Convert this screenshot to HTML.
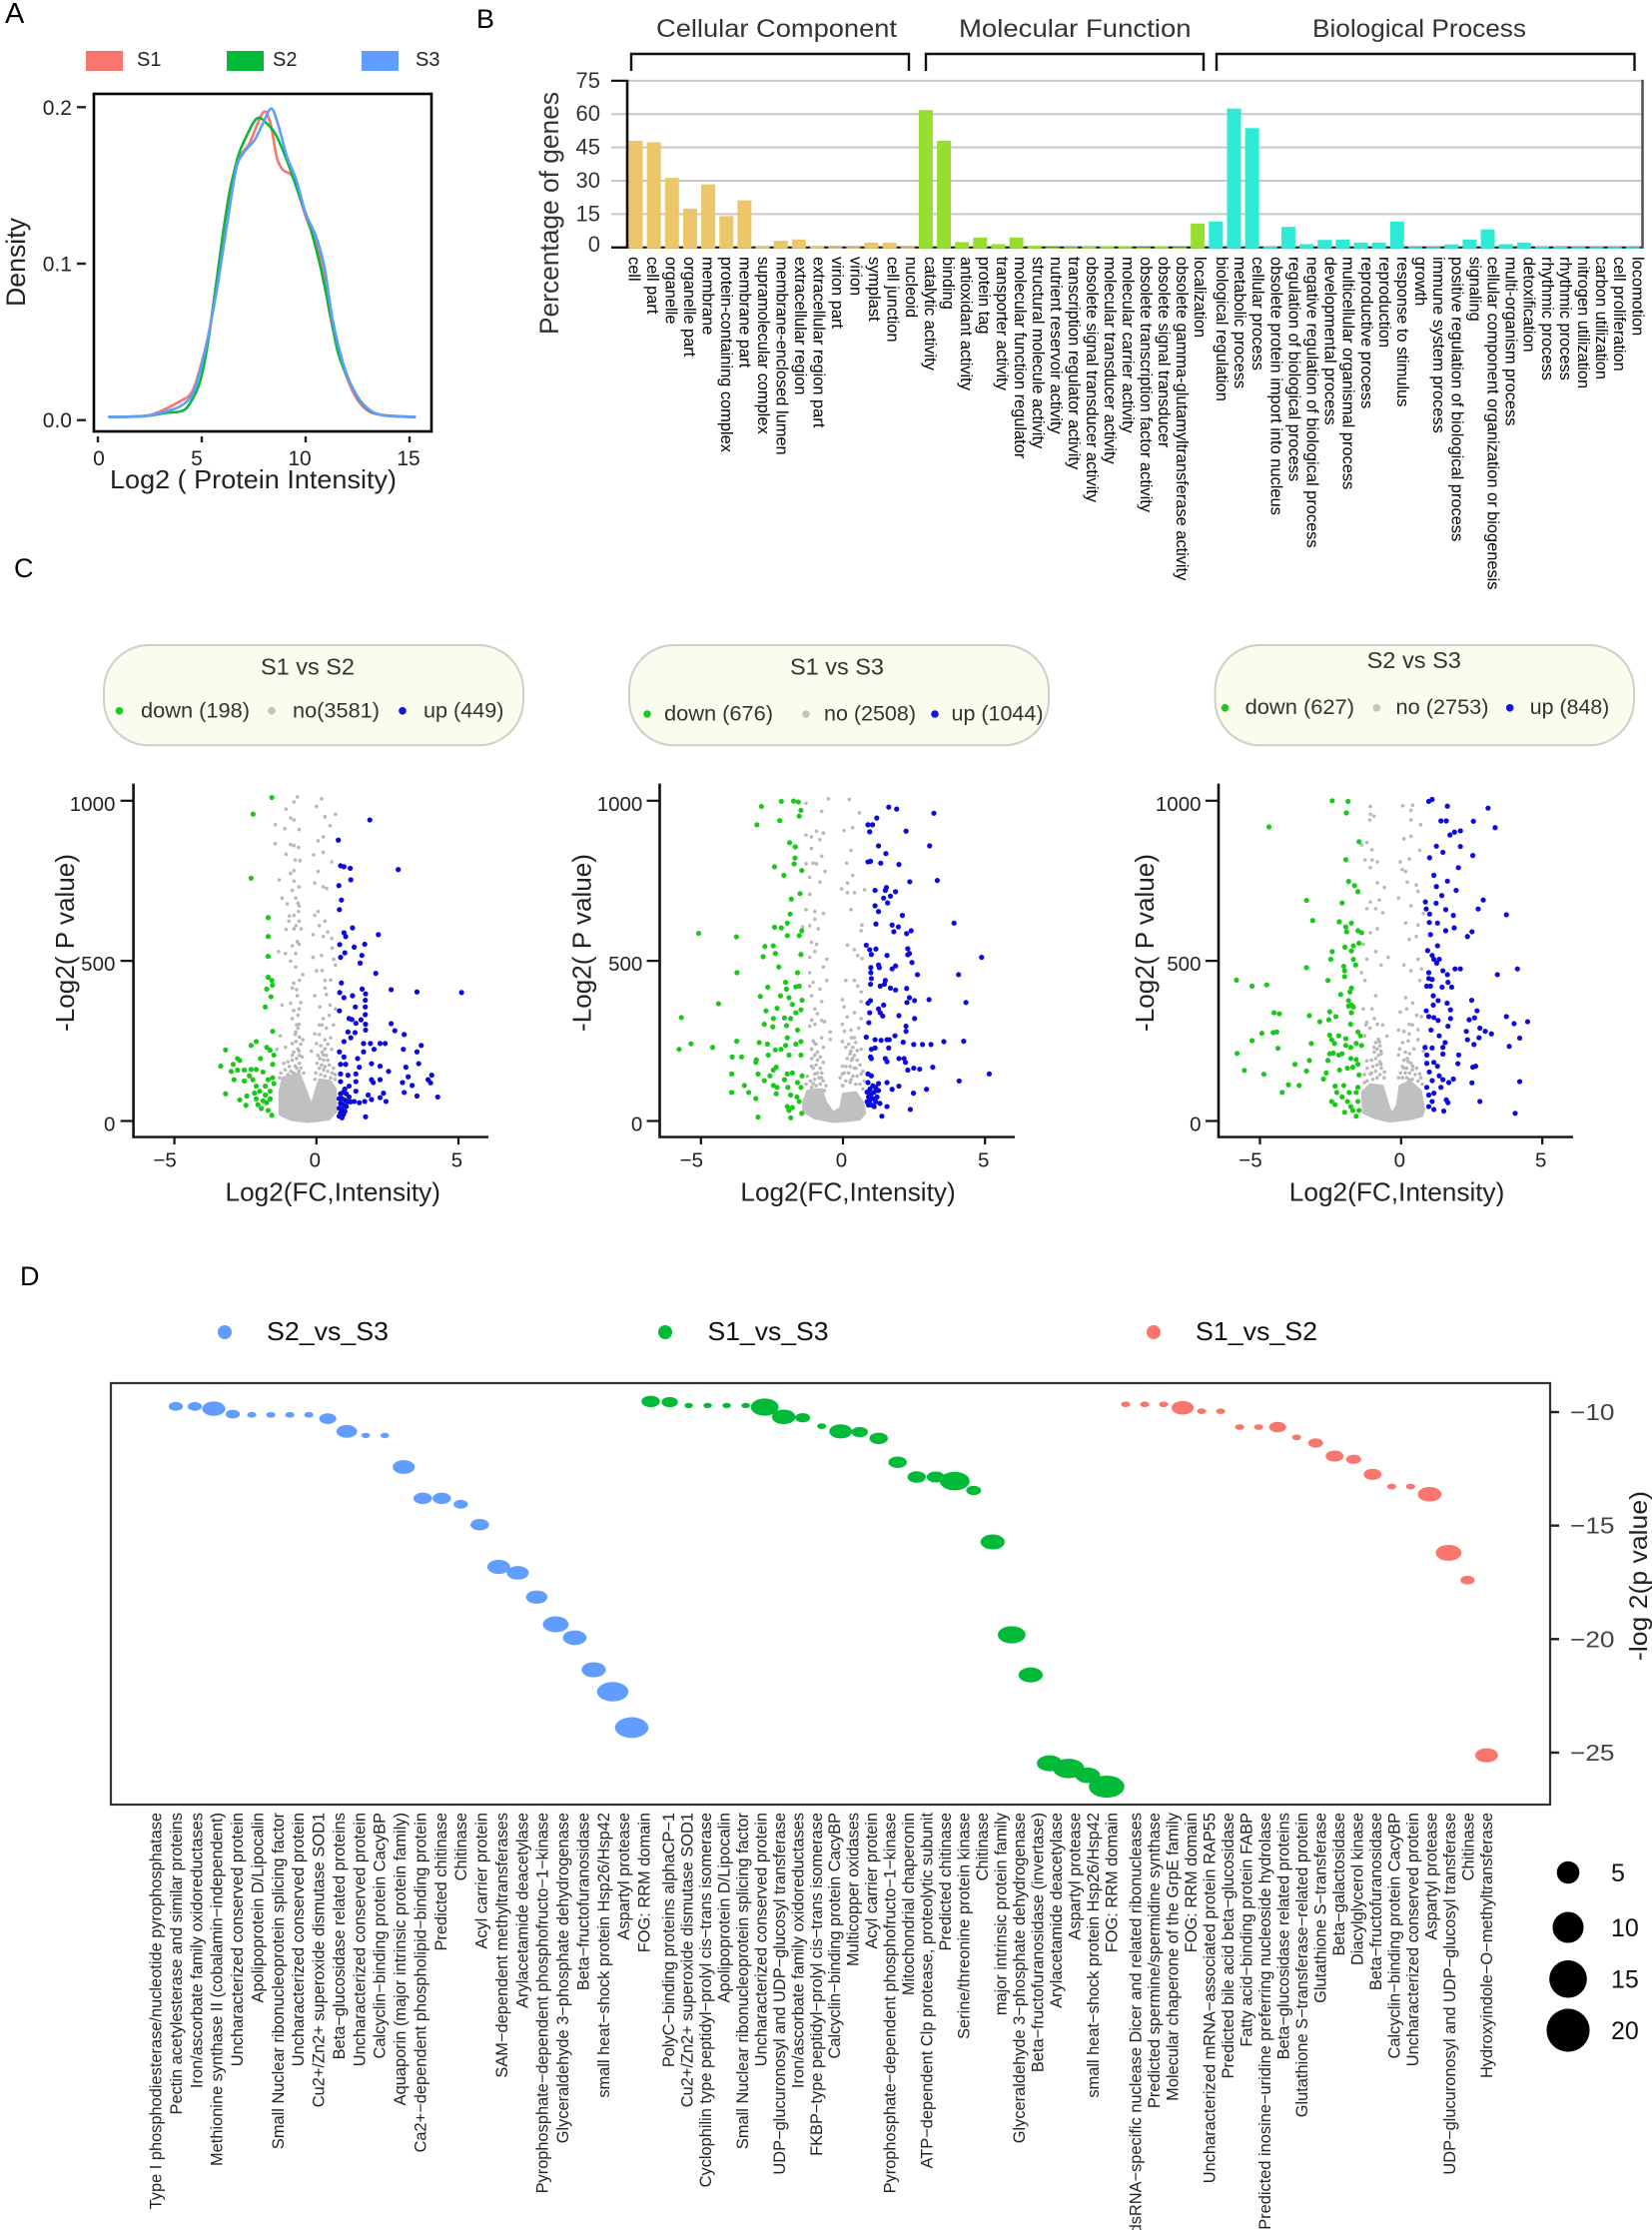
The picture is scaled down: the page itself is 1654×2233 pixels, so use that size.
<!DOCTYPE html>
<html lang="en">
<head>
<meta charset="utf-8">
<title>Proteomics overview figure</title>
<style>
html,body{margin:0;padding:0;background:#fff;}
svg{display:block;font-family:"Liberation Sans",sans-serif;}
</style>
</head>
<body>
<svg id="fig" xmlns="http://www.w3.org/2000/svg" width="1654" height="2233" viewBox="0 0 1654 2233">
  <rect x="0" y="0" width="1654" height="2233" fill="#ffffff"/>
  <text x="5" y="23" font-size="29" fill="#000">A</text>
  <text x="477" y="28" font-size="27" fill="#000">B</text>
  <text x="14" y="578" font-size="27" fill="#000">C</text>
  <text x="20" y="1287" font-size="27" fill="#000">D</text>

  <g id="panelA">
    <rect x="86" y="51" width="37" height="20" fill="#F8766D"/>
    <text x="137" y="66" font-size="20" fill="#222">S1</text>
    <rect x="227" y="51" width="37" height="20" fill="#00BA38"/>
    <text x="273" y="66" font-size="20" fill="#222">S2</text>
    <rect x="362" y="51" width="37" height="20" fill="#619CFF"/>
    <text x="416" y="66" font-size="20" fill="#222">S3</text>
    <rect x="94" y="94" width="338" height="338" fill="#fff" stroke="#000" stroke-width="2.6"/>
    <text transform="translate(25,307) rotate(-90)" font-size="27" fill="#222" textLength="89" lengthAdjust="spacingAndGlyphs">Density</text>
    <text x="110" y="489" font-size="26" fill="#222" textLength="287" lengthAdjust="spacingAndGlyphs">Log2 ( Protein Intensity)</text>
  </g>

  <g id="panelB">
    <text x="657" y="37" font-size="25" fill="#333" textLength="241" lengthAdjust="spacingAndGlyphs">Cellular Component</text>
    <text x="960" y="37" font-size="25" fill="#333" textLength="232.6" lengthAdjust="spacingAndGlyphs">Molecular Function</text>
    <text x="1314" y="37" font-size="25" fill="#333" textLength="214" lengthAdjust="spacingAndGlyphs">Biological Process</text>
    <path d="M632 71V54H910V71" fill="none" stroke="#111" stroke-width="2.4"/>
    <path d="M927 71V54H1205V71" fill="none" stroke="#111" stroke-width="2.4"/>
    <path d="M1218 71V54H1636.5V71" fill="none" stroke="#111" stroke-width="2.4"/>
    <text transform="translate(559,335) rotate(-90)" font-size="27" fill="#333" textLength="243" lengthAdjust="spacingAndGlyphs">Percentage of genes</text>
  </g>

  <g id="panelC"></g>

  <g id="panelD">
    <circle cx="225" cy="1334" r="7" fill="#619CFF"/>
    <text x="267" y="1342" font-size="26" fill="#111" textLength="122" lengthAdjust="spacingAndGlyphs">S2_vs_S3</text>
    <circle cx="666" cy="1334" r="7" fill="#00BA38"/>
    <text x="708.5" y="1342" font-size="26" fill="#111" textLength="121" lengthAdjust="spacingAndGlyphs">S1_vs_S3</text>
    <circle cx="1155" cy="1334" r="7" fill="#F8766D"/>
    <text x="1197" y="1342" font-size="26" fill="#111" textLength="122" lengthAdjust="spacingAndGlyphs">S1_vs_S2</text>
    <rect x="111" y="1385" width="1441" height="422" fill="#fff" stroke="#333" stroke-width="2.2"/>
    <text transform="translate(1649,1663) rotate(-90)" font-size="25" fill="#222" textLength="170" lengthAdjust="spacingAndGlyphs">-log 2(p value)</text>
  </g>
</svg>

<script>
/* ---------- Panel A data ---------- */
const densityYTicks = [0, 0.1, 0.2];
const densityXTicks = [0, 5, 10, 15];
const densityS1X = [0.5,2.2,3.0,3.95,4.5,4.9,5.4,5.85,6.35,6.85,7.3,7.95,8.3,8.6,8.9,9.4,10.0,10.7,11.15,11.65,12.3,12.95,13.75,15.3];
const densityS1Y = [.002,.0026,.0057,.012,.0175,.0323,.06,.1026,.1472,.1685,.177,.1966,.19,.1685,.16,.1547,.1302,.1047,.0685,.0409,.0174,.0064,.0032,.002];
const densityS2X = [0.5,2.2,3.3,4.0,4.4,4.9,5.3,5.7,6.2,6.7,7.15,7.65,8.1,8.6,9.2,9.7,10.2,10.7,11.2,11.6,12.3,12.9,13.7,15.3];
const densityS2Y = [.002,.0025,.0047,.0057,.01,.0238,.0494,.0877,.1345,.1664,.1813,.1928,.19,.1815,.1623,.1432,.1241,.0987,.0668,.0413,.0196,.0079,.0032,.002];
const densityS3X = [0.5,2.2,3.3,4.1,4.65,5.2,5.7,6.2,6.65,7.0,7.55,7.95,8.35,8.7,9.1,9.55,10.0,10.5,10.9,11.3,11.8,12.3,12.95,13.75,15.3];
const densityS3Y = [.002,.0026,.0057,.01,.0196,.047,.0813,.1238,.16,.1706,.1791,.1898,.1991,.1877,.1685,.1536,.1323,.1174,.0983,.0643,.0366,.0196,.0079,.003,.002];

/* ---------- Panel B data ---------- */
const goYTicks = [0, 15, 30, 45, 60, 75];
const goCellularLabels = ["cell","cell part","organelle","organelle part","membrane","protein-containing complex","membrane part","supramolecular complex","membrane-enclosed lumen","extracellular region","extracellular region part","virion part","virion","symplast","cell junction","nucleoid"];
const goCellularValues = [48,47.3,31.3,17.5,28.4,14.1,21.2,0.4,3,3.6,0.4,0.3,0.3,2.2,2.2,0.3];
const goMolecularLabels = ["catalytic activity","binding","antioxidant activity","protein tag","transporter activity","molecular function regulator","structural molecule activity","nutrient reservoir activity","transcription regulator activity","obsolete signal transducer activity","molecular transducer activity","molecular carrier activity","obsolete transcription factor activity","obsolete signal transducer","obsolete gamma-glutamyltransferase activity","localization"];
const goMolecularValues = [61.8,48,2.4,4.5,1.5,4.5,0.8,0.2,0.3,0.4,0.5,0.5,0.2,0.5,0.2,10.8];
const goBiologicalLabels = ["biological regulation","metabolic process","cellular process","obsolete protein import into nucleus","regulation of biological process","negative regulation of biological process","developmental process","multicellular organismal process","reproductive process","reproduction","response to stimulus","growth","immune system process","positive regulation of biological process","signaling","cellular component organization or biogenesis","multi-organism process","detoxification","rhythmic process","rhythmic process","nitrogen utilization","carbon utilization","cell proliferation","locomotion"];
const goBiologicalValues = [11.7,62.5,53.7,0.4,9.3,1.5,3.4,3.6,2.2,2.2,11.7,0.3,0.3,1.4,3.6,8.1,1.5,2.2,0.4,0.4,0.3,0.3,0.3,0.3];

/* ---------- Panel C data ---------- */
const volcanoXTicks = [-5, 0, 5];
const volcanoYTicks = [0, 500, 1000];

const s1s2Down = [[-1.57,1010],[-2.23,958],[-2.3,758],[-1.7,635],[-1.7,576],[-1.7,514],[-1.7,449],[-1.57,439],[-1.55,424],[-1.75,412],[-1.6,388],[-1.8,356],[-1.54,280],[-3.2,222],[-3.37,171],[-2.78,195],[-2.7,189],[-2.93,177],[-3.0,155],[-2.78,159],[-2.54,159],[-2.9,129],[-2.54,125],[-2.36,141],[-2.12,161],[-2.3,161],[-2.24,129],[-1.88,153],[-1.97,195],[-2.3,236],[-2.12,248],[-1.75,230],[-1.63,221],[-1.5,206],[-1.54,177],[-1.54,135],[-1.7,129],[-1.8,109],[-2.12,109],[-2.18,87],[-2,93],[-1.8,81],[-1.63,93],[-3.2,85],[-2.7,66],[-2.45,78],[-2.48,49],[-2.06,51],[-1.94,39],[-1.75,57],[-1.63,69],[-1.7,33],[-1.57,18],[-1.5,117],[-2.12,69],[-1.88,63]];
const s1s2Up = [[1.88,940],[.77,877],[2.88,785],[.85,797],[.97,794],[1.19,789],[1.21,753],[.79,735],[.88,690],[.81,660],[1.27,603],[.97,588],[1.03,576],[2.18,582],[.82,551],[1.33,543],[1.7,552],[1.0,525],[.85,511],[1.6,517],[1.54,493],[2.09,461],[.88,431],[.82,401],[1.61,412],[1.73,397],[2.63,410],[3.54,403],[5.11,401],[.97,385],[1.27,391],[1.72,377],[1.37,356],[1.72,356],[.81,344],[1.72,332],[1.15,320],[1.25,317],[1.57,316],[1.39,305],[1.73,302],[1.73,284],[2.63,304],[2.76,282],[3.09,270],[1.11,278],[1.36,276],[1.21,260],[.97,248],[1.66,242],[1.9,242],[2.24,242],[2.42,242],[3.69,236],[3.06,224],[3.54,216],[.81,216],[1.66,216],[2.03,224],[1.45,195],[.97,200],[3.6,179],[1.94,179],[2.24,171],[3.15,168],[1.03,177],[.85,177],[1.51,168],[1.39,147],[2.54,155],[3.23,138],[4.06,143],[3.93,129],[4.02,119],[1.11,143],[.85,147],[1.94,129],[2,120],[2.24,129],[3.03,120],[3.37,111],[3.09,89],[3.54,78],[4.27,75],[1.39,123],[1.15,109],[1.39,93],[.85,123],[1.82,81],[2.24,73],[2.36,87],[2.45,61],[1.94,67],[1.7,61],[1.51,57],[1.33,61],[1.73,13],[.85,85],[.95,90],[1.05,85],[.9,70],[1,65],[1.1,60],[.85,55],[.95,50],[1.05,45],[.8,40],[.9,35],[1,30],[.85,25],[.95,20],[.8,15],[.9,10],[1.15,75],[.8,70],[1,100],[1.2,60]];
const s1s2No = [[-.67,1012],[-.79,996],[-1.07,974],[-.91,946],[-.79,940],[-1.45,925],[-.61,910],[-1.11,913],[-1.45,866],[-.91,863],[-.79,860],[-.63,854],[-1.07,833],[-.75,815],[-.58,813],[-.79,782],[-.91,773],[-1.31,753],[-.79,749],[-.61,731],[-1.21,696],[-.73,696],[-.61,672],[-1.03,678],[-.63,654],[-.79,642],[-.97,624],[-.61,624],[-1.07,598],[-.79,600],[-.54,600],[-.61,552],[-.85,547],[-1.09,523],[-.73,523],[-.91,499],[-.73,481],[-1.33,529],[-.48,457],[-.85,415],[-.67,391],[-.91,368],[-.61,350],[-1.21,362],[-.85,320],[-.61,302],[-1.27,266],[-.73,278],[-.48,254],[-1.09,230],[-.85,242],[-.61,218],[-1.39,224],[.18,1006],[0,982],[.67,958],[.3,950],[.48,922],[.24,887],[.06,875],[-.1,831],[.24,839],[.54,809],[.06,779],[.24,731],[-.06,743],[.36,726],[.06,654],[-.06,642],[.3,624],[-.12,582],[.24,576],[.54,570],[-.12,511],[.18,517],[.61,505],[.67,487],[0,469],[.3,439],[-.06,391],[.3,415],[.48,362],[.12,356],[.67,350],[.24,320],[-.06,272],[.3,254],[0,242],[.54,224],[-.18,218],[.24,206]];
const s1s2NoLower = [[-.7,300],[-.65,290],[-.75,270],[-.6,262],[-.72,248],[-.55,240],[-.65,225],[-.8,215],[-.6,205],[-.5,200],[-.7,195],[-.85,190],[-.6,180],[-.75,172],[-.95,170],[-.55,165],[-.9,155],[-1.1,160],[-1.25,150],[-.45,150],[-1,185],[-1.15,180],[-.85,205],[-.7,165],[-.62,155],[-.8,150],[-1,145],[-1.3,135],[.15,235],[.3,225],[.2,215],[.05,205],[.35,205],[.12,195],[.25,190],[.4,190],[.02,180],[.18,175],[.3,170],[.45,175],[.6,165],[.1,165],[.25,160],[.4,155],[.55,150],[.65,145],[-.02,150],[.15,145],[.3,140],[.5,135],[.65,130],[-.05,130],[.35,290],[.5,260],[.2,300],[.4,240],[.1,270],[-.65,330],[-.8,345],[-.55,370],[-.7,410],[-.8,430],[-.6,440],[-.68,560],[-.95,640],[-.65,680],[-.72,610],[-.85,720],[.45,330],[.6,300],[.1,300],[.35,395],[.5,440],[.2,470],[.55,540],[.4,590],[.1,610]];
const s1s2Cloud = [[-.3,-3],[-.9,3],[-1.3,20],[-1.3,90],[-1.2,135],[-.6,150],[-.3,80],[-.17,50],[-.05,90],[.1,130],[.5,125],[.68,100],[.7,30],[.45,5],[0,-1]];

const s1s3Down = [[-2.17,998],[-1.74,999],[-1.57,996],[-2.87,982],[-1.48,970],[-1.54,952],[-2.23,938],[-3.03,925],[-1.88,869],[-1.68,856],[-1.69,821],[-1.72,803],[-2.41,794],[-2.08,767],[-1.45,782],[-1.51,710],[-1.82,693],[-1.86,646],[-2.41,605],[-2.17,603],[-1.96,618],[-5.08,586],[-3.75,575],[-1.96,579],[-1.45,594],[-1.54,579],[-2.75,545],[-2.45,547],[-2.38,523],[-2.81,513],[-1.48,520],[-2.26,481],[-3.73,463],[-1.6,463],[-2.02,433],[-2.65,418],[-1.99,412],[-1.66,419],[-1.54,421],[-2.91,389],[-2.2,391],[-1.9,385],[-1.44,377],[-4.38,366],[-1.78,364],[-2.32,352],[-2.71,344],[-1.66,338],[-1.48,347],[-5.69,323],[-2.45,320],[-2.06,322],[-1.84,320],[-2.77,302],[-2.47,294],[-1.99,298],[-1.6,284],[-1.96,260],[-3.74,249],[-2.95,245],[-2.66,240],[-5.35,241],[-5.77,224],[-4.59,230],[-1.66,240],[-1.48,248],[-2.02,236],[-2.38,222],[-2.18,224],[-1.9,206],[-1.48,206],[-2.63,206],[-3.9,200],[-3.57,200],[-3.05,191],[-3.07,183],[-2.35,168],[-2.45,159],[-3.92,147],[-2.99,147],[-2.57,141],[-2.77,126],[-1.96,147],[-1.78,150],[-2.06,129],[-1.44,141],[-1.6,120],[-2.45,111],[-2.32,105],[-1.94,105],[-1.48,105],[-3.47,111],[-3.32,89],[-3.92,89],[-3.07,70],[-2.35,85],[-1.84,81],[-1.62,75],[-1.54,61],[-1.96,45],[-1.78,42],[-1.9,33],[-2.99,12],[-1.84,10],[-1.45,24]];
const s1s3Up = [[1.61,980],[1.89,974],[3.2,961],[1.19,946],[.88,925],[1.04,925],[.94,903],[2.22,905],[3.05,859],[1.25,859],[1.51,835],[.88,809],[.97,811],[1.33,805],[1.97,801],[3.32,751],[2.35,747],[1.13,720],[1.49,720],[1.53,729],[1.85,716],[1.67,702],[1.43,696],[1.57,681],[1.13,672],[1.25,654],[2.09,642],[3.91,618],[1.16,615],[1.73,612],[1.95,606],[1.79,591],[2.4,594],[2.24,585],[.82,549],[.94,535],[1.16,537],[1,520],[2.28,538],[2.34,523],[2.28,519],[1.55,517],[4.88,511],[2.43,495],[.98,479],[1.25,487],[1.28,479],[1.73,475],[1.85,484],[.98,463],[2.62,457],[4.07,457],[1,445],[1.49,439],[.97,427],[1.31,421],[1.46,427],[1.67,415],[1.85,409],[2.24,414],[2.34,385],[2.52,376],[2.25,370],[3.03,379],[4.33,370],[.97,376],[.88,368],[1.43,362],[1.25,350],[.94,338],[1.31,338],[1.4,328],[1.97,329],[2.52,320],[.91,307],[2.22,296],[2.22,280],[1.83,266],[.82,262],[1.13,254],[1.34,252],[1.55,254],[1.63,254],[2.12,246],[2.49,239],[2.8,239],[3.1,239],[3.55,248],[4.25,249],[1,224],[1.13,228],[1.61,228],[.97,200],[1,195],[1.49,195],[1.55,185],[1.97,195],[2.15,195],[2.2,183],[3.16,168],[2.28,159],[2.49,165],[2.7,162],[5.15,147],[.88,147],[1,141],[4.09,125],[.88,120],[1.25,117],[1.55,120],[1.97,109],[2.94,99],[2.48,87],[1.73,99],[2.37,36],[1.37,15],[1.55,45],[.85,90],[.95,100],[1.05,110],[1.15,105],[1.25,95],[.9,75],[1,85],[1.1,90],[1.2,75],[.85,60],[.95,65],[1.05,70],[1.15,60],[1,50],[1.1,45],[.9,50],[1.3,55]];
const s1s3No = [[-.51,1006],[.22,1004],[-1.3,992],[-.75,967],[.58,962],[-.93,905],[-.69,899],[-1.3,893],[.04,907],[.34,916],[-1.11,887],[-.81,878],[.28,845],[-1.11,851],[-.75,827],[-1.3,803],[-1.05,805],[-.93,803],[-.63,779],[.13,805],[.34,767],[.16,743],[-1.17,761],[-.81,746],[-.05,725],[.76,722],[.16,713],[.4,713],[-1.17,708],[-1.3,660],[-.99,654],[-.69,648],[.28,660],[-.99,630],[.67,612],[.64,594],[-1.42,606],[-1.17,610],[-.87,600],[-1.11,558],[-.93,552],[.16,549],[.4,535],[.52,517],[.67,507],[-.99,529],[-.57,505],[-1.17,511],[-.69,481],[-1.17,463],[-.57,439],[-1.05,433],[.1,439],[.4,439],[.52,421],[-1.17,421],[-.81,412],[.64,403],[-1.11,391],[-.02,379],[-.75,373],[.64,373],[.04,356],[-.99,350],[.4,338],[.64,320],[-.99,302],[-.75,314],[-.02,302],[-1.17,296],[.28,284],[-.45,278],[-.75,260],[-.02,248],[.4,260],[-.99,242],[-.69,230],[-1.11,224],[.28,218],[.64,224],[-.99,206],[-.69,183],[-.02,171],[.34,195],[-1.11,171],[-.99,147],[-.02,147],[.46,165],[.28,129],[-.75,135],[.64,147],[-1.05,117],[-.02,111]];
const s1s3NoLower = [[-1.05,250],[-.95,240],[-1.1,225],[-.9,215],[-1,205],[-1.1,195],[-.9,190],[-.95,175],[-1.05,165],[-.8,165],[-.9,150],[-.75,150],[-.85,135],[-1,130],[-1.15,125],[-1.3,115],[-.7,125],[-.8,115],[-.95,110],[-1.1,105],[-.6,110],[-.65,95],[-1.25,140],[.3,260],[.45,245],[.2,240],[.35,230],[.5,220],[.25,210],[.4,205],[.15,195],[.3,190],[.5,190],[.1,170],[.25,170],[.4,165],[.6,175],[.05,150],[.2,150],[.35,140],[.5,140],[.7,155],[.1,125],[.25,120],[.45,115],[.6,115],[.75,125],[-.1,135],[0,110],[.7,100],[-.65,310],[-.9,335],[-1.1,315],[.15,325],[.05,280],[.55,290],[-.45,255],[-.8,200],[.1,230]];
const s1s3Cloud = [[-.35,-3],[-1,8],[-1.4,30],[-1.4,60],[-1.25,95],[-.75,100],[-.6,60],[-.35,28],[-.1,40],[0,85],[.45,90],[.7,60],[.78,25],[.6,5],[.2,0]];

const s2s3Down = [[-2.44,1000],[-1.88,998],[-1.94,962],[-4.68,918],[-1.49,872],[-1.96,816],[-1.86,748],[-1.65,735],[-1.53,716],[-3.35,689],[-2.09,681],[-3.13,626],[-2.19,622],[-1.76,618],[-1.96,606],[-1.93,591],[-1.53,594],[-1.4,588],[-1.49,555],[-1.69,547],[-1.99,543],[-2.44,529],[-1.76,531],[-2.49,505],[-1.69,505],[-1.61,487],[-2.03,483],[-2,469],[-2,451],[-3.35,479],[-2.59,439],[-5.83,440],[-5.28,421],[-4.76,425],[-1.76,415],[-1.81,403],[-2.14,395],[-1.86,376],[-1.76,362],[-1.86,359],[-1.69,356],[-1.76,338],[-4.5,338],[-4.31,335],[-2.53,341],[-3.25,329],[-2.56,316],[-2.31,326],[-2.88,310],[-1.79,302],[-4.53,276],[-4.4,278],[-4.93,274],[-1.53,278],[-1.44,266],[-2.53,268],[-2.21,266],[-1.96,257],[-2.46,254],[-2.36,242],[-5.28,251],[-3.18,242],[-1.96,236],[-1.78,230],[-1.59,242],[-1.4,236],[-4.36,227],[-5.81,211],[-2.53,210],[-2.4,212],[-2.21,206],[-2.09,210],[-2.59,189],[-1.78,195],[-1.59,192],[-1.53,177],[-3.25,189],[-3.76,177],[-5.55,158],[-3.35,156],[-2.18,159],[-1.9,165],[-1.71,168],[-4.86,146],[-2.65,150],[-2.75,131],[-1.49,144],[-3.99,113],[-3.61,111],[-4.21,89],[-2.34,109],[-2.03,111],[-2.28,89],[-1.84,89],[-1.59,89],[-2.46,61],[-2.34,51],[-2.09,75],[-1.9,61],[-1.53,61],[-2,27],[-1.71,33],[-1.59,15],[-1.78,45],[-1.49,33],[-1.53,105]];
const s2s3Up = [[1.1,1004],[.98,998],[1.64,983],[3.08,977],[1.41,937],[1.6,937],[2.56,936],[3.33,916],[1.73,893],[1.89,902],[2.1,906],[1.25,858],[2.1,857],[1.48,839],[2.54,829],[1.01,822],[2.03,791],[1.16,767],[1.64,749],[1.25,732],[1.95,720],[1.44,704],[2.91,690],[.86,684],[1.24,680],[2.73,662],[.89,662],[1.58,660],[1.01,646],[1.85,642],[3.73,644],[1,620],[1.29,618],[1.88,603],[1.58,594],[2.51,591],[2.35,576],[1.04,582],[1.29,547],[.94,532],[1.1,517],[1.16,505],[1.35,505],[1.26,493],[1.91,475],[2.1,475],[4.12,475],[1.48,469],[.98,463],[3.41,457],[1.64,457],[.98,445],[1.1,442],[1.66,433],[.91,421],[1.04,421],[1.45,418],[1.79,418],[1.14,391],[1.31,376],[1.63,368],[2.5,377],[1.14,362],[1.75,347],[2.69,344],[.89,344],[.98,326],[1.16,323],[1.31,314],[1.75,320],[2.41,316],[2.6,322],[3.73,326],[4,304],[4.48,310],[1.66,296],[2.79,290],[2.31,280],[2.98,280],[3.2,272],[1.06,284],[1.35,266],[2.35,254],[2.76,260],[2.58,239],[4.2,259],[3.83,233],[1.56,245],[1.48,230],[.85,230],[1.1,228],[2.04,206],[1.48,209],[.91,206],[2.01,179],[1.16,183],[1.29,171],[.91,180],[2.54,168],[2.64,171],[1,153],[1.35,141],[1.48,129],[1.85,131],[1.69,120],[2.51,119],[4.2,123],[1.1,126],[.91,105],[1.41,105],[1.16,87],[.98,81],[1.6,66],[1.66,57],[2.79,61],[1.1,61],[.98,45],[1.16,36],[1.51,31],[4.04,24]];
const s2s3No = [[-1.09,982],[.06,984],[.41,986],[-1.09,958],[-.96,952],[.35,970],[.35,940],[-1.11,940],[.69,925],[-1.21,870],[-1.4,862],[-1.03,847],[.35,889],[.1,881],[.66,845],[.29,818],[-1.03,815],[-1.28,815],[-.84,809],[-1.09,791],[-.03,809],[.04,785],[.16,779],[.22,746],[-.84,744],[.54,737],[.6,717],[-.59,729],[-.09,696],[-1.09,684],[-.77,690],[.35,672],[-1.21,663],[-.9,663],[-.65,650],[.79,648],[.16,618],[-.84,600],[.6,612],[-1.09,588],[.54,576],[.29,567],[-1.34,552],[-.9,529],[-.46,511],[-1.21,505],[.1,487],[.6,505],[-.71,487],[-1.4,463],[.35,469],[.72,475],[-1.28,439],[.66,439],[-.9,391],[.16,385],[.41,368],[-1.34,350],[-1.03,350],[-.03,340],[.72,326],[.29,302],[-1.21,308],[-.84,302],[-.09,284],[.29,272],[-1.28,266],[-.77,248],[.6,254],[-.96,230],[-.71,218],[-.09,206],[.79,218],[.22,195],[-1.21,188],[-.71,177],[.41,171],[.1,165],[-1.09,147],[-.59,153],[.66,147],[-.09,135],[.29,129]];
const s2s3NoLower = [[-.8,255],[-.9,245],[-.75,235],[-.85,225],[-.95,215],[-.7,210],[-.8,205],[-.9,195],[-1.05,190],[-.75,185],[-.85,175],[-1,170],[-1.2,165],[-.7,165],[-.9,155],[-1.05,150],[-1.3,145],[-.75,145],[-.85,135],[-1,130],[-1.2,125],[-.6,135],[-1.3,120],[.1,190],[.25,185],[.35,180],[.05,170],[.2,165],[.4,160],[.55,165],[-.02,150],[.15,150],[.3,150],[.5,145],[.7,135],[.05,135],[.2,135],[.4,130],[.6,125],[.75,115],[.3,210],[.15,215],[.45,225],[.25,250],[.05,245],[-.05,225],[-.65,300],[-.95,320],[-1.1,290],[-1.25,300],[.4,300],[.1,280],[.6,285],[.55,330],[.2,350],[-.5,265]];
const s2s3Cloud = [[-.4,-2],[-.9,8],[-1.35,25],[-1.38,90],[-1.1,115],[-.65,110],[-.45,50],[-.32,22],[-.15,50],[-.05,110],[.3,125],[.7,95],[.82,35],[.75,15],[.3,5]];

/* ---------- Panel D data ---------- */
const bubbleYTicks = [-10, -15, -20, -25];
const sizeLegendValues = [5, 10, 15, 20];
const s2s3Terms = ["Type I phosphodiesterase/nucleotide pyrophosphatase","Pectin acetylesterase and similar proteins","Iron/ascorbate family oxidoreductases","Methionine synthase II (cobalamin−independent)","Uncharacterized conserved protein","Apolipoprotein D/Lipocalin","Small Nuclear ribonucleoprotein splicing factor","Uncharacterized conserved protein","Cu2+/Zn2+ superoxide dismutase SOD1","Beta−glucosidase related proteins","Uncharacterized conserved protein","Calcyclin−binding protein CacyBP","Aquaporin (major intrinsic protein family)","Ca2+−dependent phospholipid−binding protein","Predicted chitinase","Chitinase","Acyl carrier protein","SAM−dependent methyltransferases","Arylacetamide deacetylase","Pyrophosphate−dependent phosphofructo−1−kinase","Glyceraldehyde 3−phosphate dehydrogenase","Beta−fructofuranosidase","small heat−shock protein Hsp26/Hsp42","Aspartyl protease","FOG: RRM domain"];
const s2s3Values = [-9.75,-9.75,-9.85,-10.09,-10.12,-10.12,-10.12,-10.12,-10.29,-10.85,-11.03,-11.03,-12.42,-13.8,-13.8,-14.06,-14.96,-16.82,-17.08,-18.15,-19.35,-19.94,-21.35,-22.32,-23.9];
const s2s3Sizes = [3.6,3.6,9.6,3.6,1.5,1.5,1.5,1.5,5.2,7.6,1.3,1.3,8.7,6.1,6.1,3.6,6.1,9.3,8.7,8.2,11.8,9.9,10.5,17.6,20];
const s1s3Terms = ["PolyC−binding proteins alphaCP−1","Cu2+/Zn2+ superoxide dismutase SOD1","Cyclophilin type peptidyl−prolyl cis−trans isomerase","Apolipoprotein D/Lipocalin","Small Nuclear ribonucleoprotein splicing factor","Uncharacterized conserved protein","UDP−glucuronosyl and UDP−glucosyl transferase","Iron/ascorbate family oxidoreductases","FKBP−type peptidyl−prolyl cis−trans isomerase","Calcyclin−binding protein CacyBP","Multicopper oxidases","Acyl carrier protein","Pyrophosphate−dependent phosphofructo−1−kinase","Mitochondrial chaperonin","ATP−dependent Clp protease, proteolytic subunit","Predicted chitinase","Serine/threonine protein kinase","Chitinase","major intrinsic protein family","Glyceraldehyde 3−phosphate dehydrogenase","Beta−fructofuranosidase (invertase)","Arylacetamide deacetylase","Aspartyl protease","small heat−shock protein Hsp26/Hsp42","FOG: RRM domain"];
const s1s3Values = [-9.53,-9.56,-9.71,-9.71,-9.71,-9.71,-9.78,-10.21,-10.25,-10.62,-10.85,-10.88,-11.16,-12.21,-12.86,-12.86,-13.04,-13.45,-15.72,-19.81,-21.58,-25.47,-25.7,-26.0,-26.5];
const s1s3Sizes = [6.1,4.8,1.3,1.3,1.3,1.3,13.8,9.9,4,1.5,9.3,4.8,6.1,6.1,6.1,5.7,16,4,10.5,13.8,10.5,11.8,17.6,11.1,22.7];
const s1s2Terms = ["dsRNA−specific nuclease Dicer and related ribonucleases","Predicted spermine/spermidine synthase","Molecular chaperone of the GrpE family","FOG: RRM domain","Uncharacterized mRNA−associated protein RAP55","Predicted bile acid beta−glucosidase","Fatty acid−binding protein FABP","Predicted inosine−uridine preferring nucleoside hydrolase","Beta−glucosidase related proteins","Glutathione S−transferase−related protein","Glutathione S−transferase","Beta−galactosidase","Diacylglycerol kinase","Beta−fructofuranosidase","Calcyclin−binding protein CacyBP","Uncharacterized conserved protein","Aspartyl protease","UDP−glucuronosyl and UDP−glucosyl transferase","Chitinase","Hydroxyindole−O−methyltransferase"];
const s1s2Values = [-9.66,-9.66,-9.66,-9.81,-9.96,-9.96,-10.66,-10.66,-10.66,-11.11,-11.36,-11.94,-12.08,-12.74,-13.28,-13.28,-13.62,-16.2,-17.4,-25.12];
const s1s2Sizes = [1.5,1.5,1.5,8.7,1.5,1.5,1.5,1.5,5.2,1.5,4,5.7,4,5.7,1.5,1.5,9.9,11.8,3.6,9.3];

/* ---------- helpers ---------- */
const NS = 'http://www.w3.org/2000/svg';
function svgEl(tag, attrs, parent) {
  const e = document.createElementNS(NS, tag);
  for (const k in attrs) e.setAttribute(k, attrs[k]);
  parent.appendChild(e);
  return e;
}
function svgText(str, attrs, parent) {
  const e = svgEl('text', attrs, parent);
  e.textContent = str;
  return e;
}
function smoothPath(pts) {
  let d = 'M' + pts[0][0].toFixed(1) + ' ' + pts[0][1].toFixed(1);
  for (let i = 0; i < pts.length - 1; i++) {
    const p0 = pts[Math.max(i - 1, 0)], p1 = pts[i], p2 = pts[i + 1], p3 = pts[Math.min(i + 2, pts.length - 1)];
    const c1x = p1[0] + (p2[0] - p0[0]) / 6, c1y = p1[1] + (p2[1] - p0[1]) / 6;
    const c2x = p2[0] - (p3[0] - p1[0]) / 6, c2y = p2[1] - (p3[1] - p1[1]) / 6;
    d += 'C' + c1x.toFixed(1) + ' ' + c1y.toFixed(1) + ' ' + c2x.toFixed(1) + ' ' + c2y.toFixed(1) + ' ' + p2[0].toFixed(1) + ' ' + p2[1].toFixed(1);
  }
  return d;
}

/* ---------- Panel A ---------- */
(function () {
  const g = document.getElementById('panelA');
  const sx = v => 98 + v * 20.8;
  const sy = v => 420.7 - v * 1567;
  const xNudge = {0: 1, 5: -5, 10: -6, 15: -1};
  densityYTicks.forEach(v => {
    const t = svgEl('line', {x1: 77, x2: 86, y1: sy(v), y2: sy(v), stroke: '#222', 'stroke-width': 2.4}, g);
    
    
    const l = svgText(v.toFixed(1), {x: 72, y: sy(v) + 7.5, 'text-anchor': 'end', 'font-size': 21, fill: '#222'}, g);
    
    
  });
  densityXTicks.forEach(v => {
    const t = svgEl('line', {x1: sx(v), x2: sx(v), y1: 437, y2: 443, stroke: '#222', 'stroke-width': 2.4}, g);
    
    
    const l = svgText(String(v), {x: sx(v) + xNudge[v], y: 466, 'text-anchor': 'middle', 'font-size': 21, fill: '#222'}, g);
    
    
  });
  const series = [
    ['density-line-s1', densityS1X, densityS1Y, '#F8766D'],
    ['density-line-s2', densityS2X, densityS2Y, '#0CB83C'],
    ['density-line-s3', densityS3X, densityS3Y, '#619CFF']
  ];
  series.forEach(s => {
    const pts = s[1].map((x, i) => [sx(x), sy(s[2][i])]);
    const p = svgEl('path', {d: smoothPath(pts), fill: 'none', stroke: s[3], 'stroke-width': 2.6}, g);
    
    
  });
})();

/* ---------- Panel B ---------- */
(function () {
  const g = document.getElementById('panelB');
  const sy = v => 247.8 - v * 2.226;
  const sx = i => 636.5 + i * 18.15;
  const rightEdge = 1644.5;
  goYTicks.forEach(v => {
    const isEdge = v === 0 || v === 75;
    const grid = svgEl('line', {x1: 612, x2: rightEdge, y1: sy(v), y2: sy(v), stroke: v === 0 ? '#111' : '#c8c8c8', 'stroke-width': 2}, g);
    
    
    if (isEdge) {
      const t = svgEl('line', {x1: 612, x2: 628, y1: sy(v), y2: sy(v), stroke: '#111', 'stroke-width': 2.2}, g);
      
      
    }
    const l = svgText(String(v), {x: 601, y: sy(v) + (v === 0 ? 4 : 7), 'text-anchor': 'end', 'font-size': 22, fill: '#333'}, g);
    
    
  });
  const la = svgEl('line', {x1: 628, x2: 628, y1: sy(75) - 1, y2: sy(0) + 1, stroke: '#111', 'stroke-width': 2.6}, g);
  
  
  const ra = svgEl('line', {x1: rightEdge, x2: rightEdge, y1: sy(75) - 1, y2: sy(0) + 1, stroke: '#555', 'stroke-width': 2.6}, g);
  
  
  let idx = 0;
  const groups = [
    [goCellularLabels, goCellularValues, '#ECC76A', 634.5, 18.5],
    [goMolecularLabels, goMolecularValues, '#96DE30', 931, 18],
    [goBiologicalLabels, goBiologicalValues, '#2EEBD8', 1223, 18.1]
  ];
  groups.forEach(grp => {
    grp[0].forEach((label, i) => {
      const cx = sx(idx);
      const v = grp[1][i];
      const b = svgEl('rect', {x: cx - 7, y: sy(v), width: 14, height: sy(0) - sy(v) + 1, fill: grp[2]}, g);
      
      
      const lx = grp[3] + i * grp[4] - 5;
      const t = svgText(label, {transform: 'translate(' + lx.toFixed(1) + ',257) rotate(90)', 'font-size': 16.4, fill: '#000'}, g);
      
      
      idx++;
    });
  });
})();

/* ---------- Panel C ---------- */
(function () {
  const root = document.getElementById('panelC');
  const sy = v => 1122.5 - v * 0.3207;
  const panels = [
    {name: 's1-vs-s2', title: 'S1 vs S2', pill: [104, 524], titleBox: [261, 94, 675.5], legendY: 718.7, dotY: 711.8,
     items: [['down (198)', 119.5, 141, 109, '#1ec81e'], ['no(3581)', 272, 293, 87, '#c4c4bc'], ['up (449)', 403, 424, 80.5, '#1414dc']],
     axisX: 133.6, axisEnd: 489, x0: 316.8, ux: 28.44, yLabelRight: 115.4, yTitleX: 74, xTitle: [225.5, 215.5],
     down: s1s2Down, up: s1s2Up, no: s1s2No.concat(s1s2NoLower), cloud: s1s2Cloud},
    {name: 's1-vs-s3', title: 'S1 vs S3', pill: [630, 1050], titleBox: [791, 94, 675.5], legendY: 721.4, dotY: 715,
     items: [['down (676)', 648, 665, 109, '#1ec81e'], ['no (2508)', 807, 825, 92, '#c4c4bc'], ['up (1044)', 936, 952.5, 92, '#1414dc']],
     axisX: 660.5, axisEnd: 1016, x0: 844, ux: 28.44, yLabelRight: 643.3, yTitleX: 591.7, xTitle: [741.4, 215.3],
     down: s1s3Down, up: s1s3Up, no: s1s3No.concat(s1s3NoLower), cloud: s1s3Cloud},
    {name: 's2-vs-s3', title: 'S2 vs S3', pill: [1216.6, 1636], titleBox: [1368.6, 94.3, 669], legendY: 715, dotY: 708.8,
     items: [['down (627)', 1226.5, 1246.6, 109.4, '#1ec81e'], ['no (2753)', 1378.4, 1397.5, 93, '#c4c4bc'], ['up (848)', 1511.7, 1531.8, 79.5, '#1414dc']],
     axisX: 1220, axisEnd: 1575, x0: 1402.8, ux: 28.27, yLabelRight: 1202.5, yTitleX: 1154.8, xTitle: [1290.8, 215.6],
     down: s2s3Down, up: s2s3Up, no: s2s3No.concat(s2s3NoLower), cloud: s2s3Cloud}
  ];
  panels.forEach(p => {
    const g = svgEl('g', {}, root);
    
    
    const sx = v => p.x0 + v * p.ux;

    const pill = svgEl('rect', {x: p.pill[0], y: 646, width: p.pill[1] - p.pill[0], height: 100.3, rx: 45, ry: 45, fill: '#FBFBEE', stroke: '#cfcfc8', 'stroke-width': 2}, g);
    
    
    const title = svgText(p.title, {x: p.titleBox[0], y: p.titleBox[2], 'font-size': 23, fill: '#333', textLength: p.titleBox[1], lengthAdjust: 'spacingAndGlyphs'}, g);
    
    
    p.items.forEach(it => {
      const d = svgEl('circle', {cx: it[1], cy: p.dotY, r: 3.8, fill: it[4]}, g);
      
      
      const t = svgText(it[0], {x: it[2], y: p.legendY, 'font-size': 21, fill: '#333', textLength: it[3], lengthAdjust: 'spacingAndGlyphs'}, g);
      
      
    });

    const cloudPts = p.cloud.map(c => sx(c[0]).toFixed(1) + ',' + sy(c[1]).toFixed(1)).join(' ');
    const cl = svgEl('polygon', {points: cloudPts, fill: '#c0c0c0', stroke: '#c0c0c0', 'stroke-width': 2, 'stroke-linejoin': 'round'}, g);
    
    
    p.no.forEach(c => {
      const m = svgEl('circle', {cx: sx(c[0]), cy: sy(c[1]), r: 1.8, fill: '#b8b8b8'}, g);
      
      
    });
    p.down.forEach(c => {
      const m = svgEl('circle', {cx: sx(c[0]), cy: sy(c[1]), r: 2.6, fill: '#19c819'}, g);
      
      
    });
    p.up.forEach(c => {
      const m = svgEl('circle', {cx: sx(c[0]), cy: sy(c[1]), r: 2.6, fill: '#0a0adc'}, g);
      
      
    });

    const ya = svgEl('line', {x1: p.axisX, x2: p.axisX, y1: 784.6, y2: 1139.8, stroke: '#111', 'stroke-width': 2.6}, g);
    
    
    const xa = svgEl('line', {x1: p.axisX, x2: p.axisEnd, y1: 1138.6, y2: 1138.6, stroke: '#111', 'stroke-width': 2.4}, g);
    
    
    volcanoYTicks.forEach(v => {
      const t = svgEl('line', {x1: p.axisX - 13, x2: p.axisX, y1: sy(v), y2: sy(v), stroke: '#111', 'stroke-width': 2.2}, g);
      
      
      const l = svgText(String(v), {x: p.yLabelRight, y: sy(v) + 10, 'text-anchor': 'end', 'font-size': 20.5, fill: '#222'}, g);
      
      
    });
    volcanoXTicks.forEach(v => {
      const t = svgEl('line', {x1: sx(v), x2: sx(v), y1: 1138.6, y2: 1146, stroke: '#111', 'stroke-width': 2.2}, g);
      
      
      const l = svgText(v < 0 ? '−' + Math.abs(v) : String(v), {x: sx(v) + (v < 0 ? -9.5 : -1.5), y: 1168.4, 'text-anchor': 'middle', 'font-size': 20.5, fill: '#222'}, g);
      
      
    });
    const xt = svgText('Log2(FC,Intensity)', {x: p.xTitle[0], y: 1202.5, 'font-size': 26, fill: '#222', textLength: p.xTitle[1], lengthAdjust: 'spacingAndGlyphs'}, g);
    
    
    const yt = svgText('-Log2( P value)', {transform: 'translate(' + p.yTitleX + ',1033) rotate(-90)', 'font-size': 26, fill: '#222', textLength: 178, lengthAdjust: 'spacingAndGlyphs'}, g);
    
    
  });
})();

/* ---------- Panel D ---------- */
(function () {
  const g = document.getElementById('panelD');
  const sy = v => 1414 - (v + 10) * 22.73;
  const bx = i => 176 + i * 19.02;
  const rxOf = s => 3.75 * Math.sqrt(s);
  bubbleYTicks.forEach(v => {
    const t = svgEl('line', {x1: 1552, x2: 1561, y1: sy(v), y2: sy(v), stroke: '#222', 'stroke-width': 2.4}, g);
    
    
    const l = svgText('−' + Math.abs(v), {x: 1572, y: sy(v) + 8, 'font-size': 23, fill: '#444', textLength: 44.5, lengthAdjust: 'spacingAndGlyphs'}, g);
    
    
  });
  const groups = [
    ['s2-vs-s3', s2s3Terms, s2s3Values, s2s3Sizes, '#619CFF', 0, 156, 20.38],
    ['s1-vs-s3', s1s3Terms, s1s3Values, s1s3Sizes, '#00BA38', 25, 669.5, 18.47],
    ['s1-vs-s2', s1s2Terms, s1s2Values, s1s2Sizes, '#F8766D', 50, 1137, 18.5]
  ];
  groups.forEach(grp => {
    grp[1].forEach((term, i) => {
      const rx = rxOf(grp[3][i]);
      const b = svgEl('ellipse', {cx: bx(grp[5] + i), cy: sy(grp[2][i]), rx: rx, ry: rx * 0.62, fill: grp[4]}, g);
      
      
      const lx = grp[6] + i * grp[7] + 5.5;
      const t = svgText(term, {transform: 'translate(' + lx.toFixed(1) + ',1815) rotate(-90)', 'text-anchor': 'end', 'font-size': 16.4, fill: '#222'}, g);
      
      
    });
  });
  const legendCy = {5: 1875, 10: 1930, 15: 1981.7, 20: 2033};
  sizeLegendValues.forEach(v => {
    const c = svgEl('circle', {cx: 1570, cy: legendCy[v], r: 9.2 * Math.sqrt(v) / 2 + 1, fill: '#000'}, g);
    
    
    const t = svgText(String(v), {x: 1613, y: legendCy[v] + 9, 'font-size': 25, fill: '#111'}, g);
    
    
  });
})();
</script>
</body>
</html>
